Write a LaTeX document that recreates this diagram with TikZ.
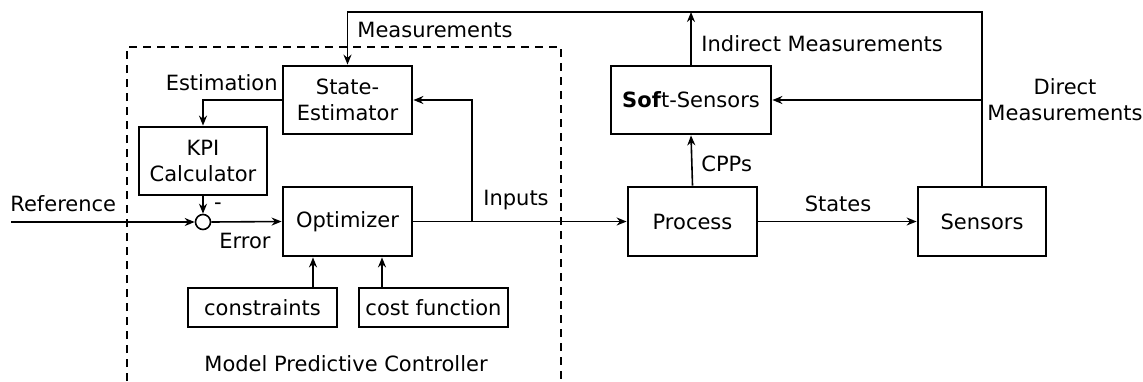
\documentclass[tikz,border=0pt]{standalone}
\usepackage{fontspec}
\setmainfont{DejaVu Sans}
\usetikzlibrary{arrows.meta}

\tikzset{
  block/.style={draw, line width=1.4pt, inner sep=0pt, align=center},
  conn/.style={line width=0.8pt},
  arr/.style={conn, -{Stealth[length=5pt,width=4pt]}},
  lbl/.style={inner sep=0pt, align=center},
  frame/.style={line width=0.8pt, dash pattern=on 4pt off 3pt}
}

\begin{document}
\begin{tikzpicture}[x=0.5pt, y=-0.5pt, font=\fontsize{10.5}{13}\selectfont]
\useasboundingbox (0,0) rectangle (1143,381);

% controller frame (open at the bottom)
\draw[frame] (127,381) -- (127,47) -- (561,47) -- (561,381);

% blocks
\node[block, minimum width=64.5pt, minimum height=34pt] (est)  at (347.5,100)   {State-\\Estimator};
\node[block, minimum width=64pt,   minimum height=34pt] (kpi)  at (203,161)     {KPI\\Calculator};
\node[block, minimum width=64.5pt, minimum height=34.5pt] (opt) at (347.5,221.5) {Optimizer};
\node[block, minimum width=74.5pt, minimum height=19.5pt] (cons) at (262.5,307.5) {constraints};
\node[block, minimum width=74.5pt, minimum height=19.5pt] (cost) at (433.5,307.5) {cost function};
\node[block, minimum width=80pt,   minimum height=34pt] (soft) at (691,100)     {\textbf{Sof}t-Sensors};
\node[block, minimum width=64.5pt, minimum height=34.5pt] (proc) at (692.5,221.5) {Process};
\node[block, minimum width=64pt,   minimum height=34.5pt] (sens) at (982,221.5)   {Sensors};
\node[draw, circle, line width=0.8pt, minimum size=7.5pt, inner sep=0pt] (sum) at (203,222) {};

% free ends and junctions
\coordinate (refin) at (11,222);
\coordinate (inj)   at (472,222);
\coordinate (topR)  at (sens.north |- 0,12);
\coordinate (topS)  at (soft.north |- 0,12);
\coordinate (dmj)   at (sens.north |- soft.east);

% connectors
\draw[arr] (refin) -- (sum.west);
\draw[arr] (sum.east) -- (opt.west);
\draw[arr] (kpi.south) -- (sum.north);
\draw[arr] (est.west) -| (kpi.north);
\draw[arr] (opt.east) -- (proc.west);
\draw[arr] (inj) |- (est.east);
\draw[arr] (cons.north -| 313,0) -- (opt.south -| 313,0);
\draw[arr] (cost.north -| 382,0) -- (opt.south -| 382,0);
\draw[arr] (proc.north) -- (soft.south);
\draw[arr] (proc.east) -- (sens.west);
\draw[arr] (soft.north) -- (topS);
\draw[arr] (sens.north) -- (topR) -| (est.north);
\draw[arr] (dmj) -- (soft.east);

% labels
\node[lbl, anchor=west] (lmeas) at (357,30)  {Measurements};
\node[lbl, anchor=east] (lest)  at (278,83)  {Estimation};
\node[lbl] (lminus) at (218,206) {-};
\node[lbl, anchor=west] (lref) at (10,204) {Reference};
\node[lbl] (lerr)   at (245,241) {Error};
\node[lbl] (linp)   at (516,200) {Inputs};
\node[lbl] (lsta)   at (838,204) {States};
\node[lbl, anchor=west] (lcpp) at (701,164) {CPPs};
\node[lbl, anchor=west] (lind) at (701,44)  {Indirect Measurements};
\node[lbl] (ldir)   at (1065,100) {Direct\\Measurements};
\node[lbl] (lmpc)   at (346,364) {Model Predictive Controller};
\end{tikzpicture}
\end{document}
